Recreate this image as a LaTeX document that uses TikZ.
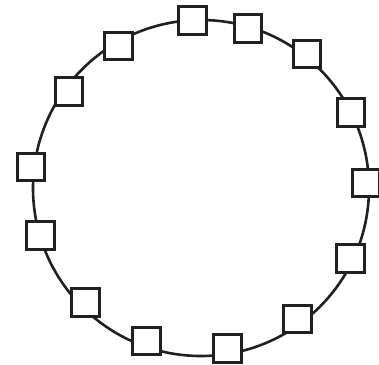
\documentclass[tikz,border=0pt]{standalone}
\usetikzlibrary{positioning}
\definecolor{ink}{HTML}{231F20}

\begin{document}
\begin{tikzpicture}[x=1pt, y=-1pt,
		box/.style={draw=ink, fill=white, line width=2.9pt, minimum size=27.4pt, inner sep=0pt}]
				\useasboundingbox (0,0) rectangle (379,364);
				\clip (0,0) rectangle (379,364);
				\draw[ink, line width=2.6pt] (201,188) circle [radius=168pt];
				\node[box] (t1) at (192.5, 20.5) {};
				\node[box] (t2) at (248, 28.5) {};
				\node[box] (r1) at (307, 54) {};
				\node[box] (r2) at (351, 112.5) {};
				\node[box] (r3) at (366, 183) {};
				\node[box] (r4) at (350.5, 258.5) {};
				\node[box] (r5) at (297.5, 319) {};
				\node[box] (b1) at (227.5, 348.5) {};
				\node[box] (b2) at (146.5, 341) {};
				\node[box] (l1) at (85.5, 302.5) {};
				\node[box] (l2) at (40.5, 235.5) {};
				\node[box] (l3) at (31, 167) {};
				\node[box] (l4) at (69, 91.5) {};
				\node[box] (l5) at (118.5, 46) {};
			\end{tikzpicture}
\end{document}
